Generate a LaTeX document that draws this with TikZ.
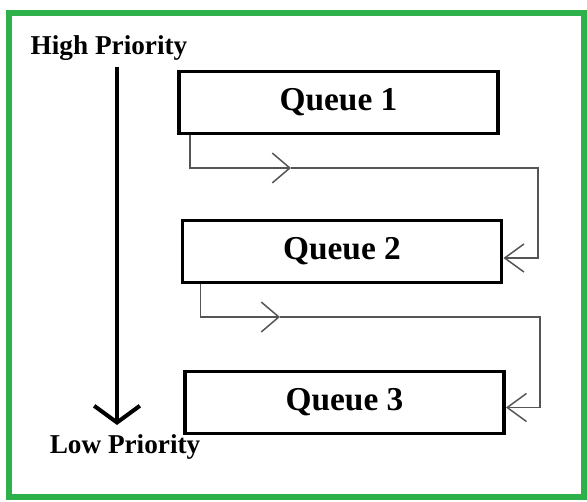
\documentclass[tikz,border=0pt]{standalone}
\usepackage{fontspec}
\setmainfont{Liberation Serif}
\usepackage{tikz}
\usetikzlibrary{arrows.meta, positioning, calc}
\definecolor{framedraw}{HTML}{2EB14B}
\definecolor{linkdraw}{HTML}{555555}
\tikzset{
  queue/.style={rectangle, draw=black, fill=white, line width=2.2pt, align=center, font=\bfseries\fontsize{19}{22}\selectfont, minimum width=6.38cm, minimum height=1.24cm, inner sep=0pt},
  prio/.style={font=\bfseries\fontsize{15.5}{18}\selectfont, inner sep=0pt},
  link/.style={line width=0.85pt, draw=linkdraw},
  midtip/.style={link, -{Straight Barb[length=10pt, width=17pt]}},
  endtip/.style={link, -{Straight Barb[length=11pt, width=16pt]}},
  bigarr/.style={line width=2.3pt, -{Straight Barb[length=9.5pt, width=26pt]}},
}
\begin{document}
\begin{tikzpicture}[x=0.02cm, y=-0.02cm]
  \useasboundingbox (0,0) rectangle (587,502);
  \fill[white] (0,0) rectangle (587,502);
  \draw[framedraw, line width=3.6pt] (9,13) rectangle (584,497);

  % priority axis
  \node[prio] (hi) at (109,48) {High Priority};
  \node[prio] (lo) at (125,447) {Low Priority};
  \coordinate (top) at (117,67);
  \coordinate (bot) at (117,425);
  \draw[bigarr] (top) -- (bot);

  % queues
  \node[queue] (q1) at (338.5,102.5) {Queue 1};
  \node[queue] (q2) at (342,251.5) {Queue 2};
  \node[queue] (q3) at (344.5,402.5) {Queue 3};

  % q1 -> q2
  \coordinate (m1) at (291,168);
  \coordinate (r1) at (538,168);
  \draw[midtip] ([xshift=0.26cm]q1.south west) |- (m1);
  \draw[endtip] (m1) -- (r1) |- ([yshift=-0.13cm]q2.east);

  % q2 -> q3
  \coordinate (m2) at (280,317);
  \coordinate (r2) at (540,317);
  \draw[midtip] ([xshift=0.4cm]q2.south west) |- (m2);
  \draw[endtip] (m2) -- (r2) |- ([yshift=-0.1cm]q3.east);
\end{tikzpicture}
\end{document}
